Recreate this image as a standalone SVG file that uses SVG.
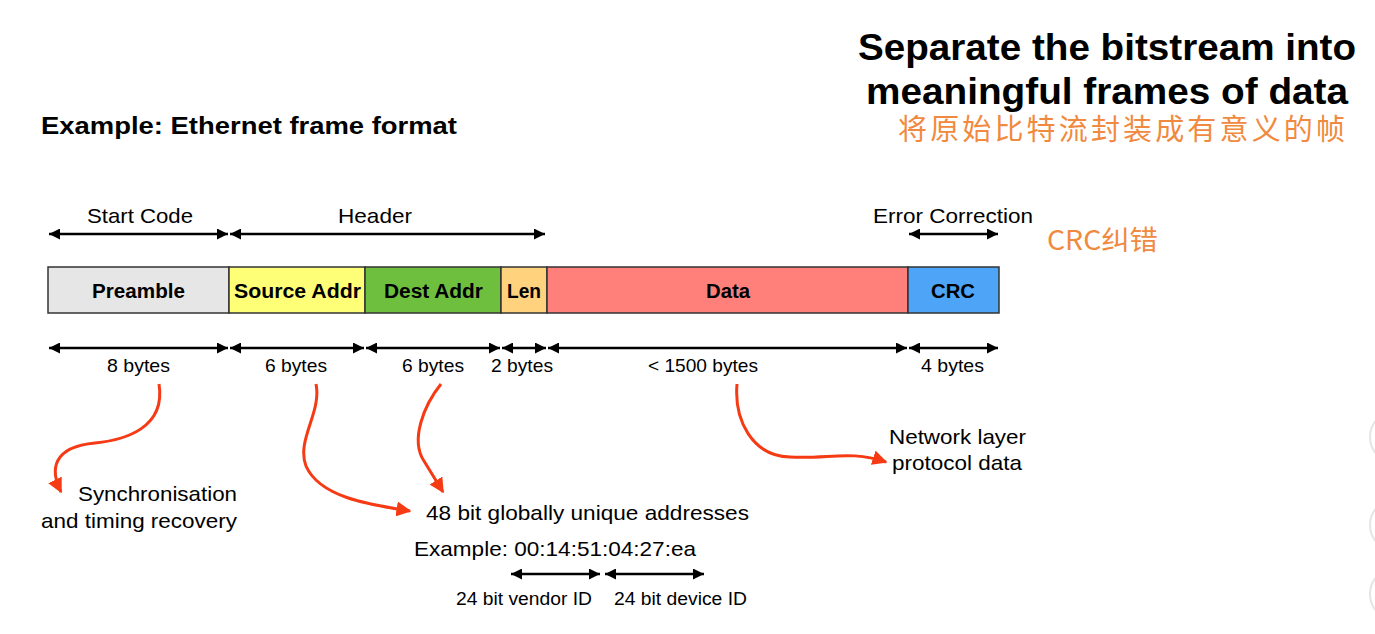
<svg xmlns="http://www.w3.org/2000/svg" width="1375" height="634" viewBox="0 0 1375 634">
<defs>
<marker id="ah" viewBox="0 0 10 10" refX="10" refY="5" markerWidth="4.4" markerHeight="4.4" orient="auto-start-reverse" markerUnits="strokeWidth">
<path d="M0,0 L10,5 L0,10 z" fill="#000"/>
</marker>
<marker id="rh" viewBox="0 0 10 10" refX="9" refY="5" markerWidth="5" markerHeight="5" orient="auto" markerUnits="strokeWidth">
<path d="M0,0 L10,5 L0,10 z" fill="#F53A14"/>
</marker>
<style>
.t{font-family:"Liberation Sans",Arial,sans-serif;fill:#000}
.lbl{font-size:21px}
.s{font-size:19px}
.bl{font-weight:bold;font-size:20px}
.b{font-weight:bold}
.box{stroke:#333;stroke-width:1.5}
.dim{stroke:#000;stroke-width:2.5;fill:none;marker-start:url(#ah);marker-end:url(#ah)}
.red{stroke:#F53A14;stroke-width:3;fill:none;marker-end:url(#rh)}
.cn{font-family:"Noto Sans CJK SC",sans-serif;fill:#F08A40}
</style>
</defs>
<rect width="1375" height="634" fill="#fff"/>

<g id="title">
<text class="t b" x="858" y="60" font-size="37" textLength="498" lengthAdjust="spacingAndGlyphs">Separate the bitstream into</text>
<text class="t b" x="866" y="104" font-size="37" textLength="482" lengthAdjust="spacingAndGlyphs">meaningful frames of data</text>
<text class="cn" x="898" y="140" font-size="29" textLength="447" lengthAdjust="spacing">将原始比特流封装成有意义的帧</text>
</g>
<g id="subtitle">
<text class="t b" x="41" y="134" font-size="24" textLength="416" lengthAdjust="spacingAndGlyphs">Example: Ethernet frame format</text>
</g>

<g id="preamble"><rect class="box" x="48" y="267" width="181" height="46" fill="#E6E6E6"/><text class="t bl" x="92" y="298" textLength="93" lengthAdjust="spacingAndGlyphs">Preamble</text></g>
<g id="source"><rect class="box" x="229" y="267" width="136" height="46" fill="#FFFF77"/><text class="t bl" x="234" y="298" textLength="127" lengthAdjust="spacingAndGlyphs">Source Addr</text></g>
<g id="dest"><rect class="box" x="365" y="267" width="136" height="46" fill="#6FBF3F"/><text class="t bl" x="384" y="298" textLength="99" lengthAdjust="spacingAndGlyphs">Dest Addr</text></g>
<g id="len"><rect class="box" x="501" y="267" width="46" height="46" fill="#FFD27D"/><text class="t bl" x="507" y="298" textLength="34" lengthAdjust="spacingAndGlyphs">Len</text></g>
<g id="data"><rect class="box" x="547" y="267" width="361" height="46" fill="#FF7F7A"/><text class="t bl" x="706" y="298" textLength="44" lengthAdjust="spacingAndGlyphs">Data</text></g>
<g id="crc"><rect class="box" x="908" y="267" width="91" height="46" fill="#4EA5F7"/><text class="t bl" x="931" y="298" textLength="44" lengthAdjust="spacingAndGlyphs">CRC</text></g>

<g id="top-labels">
<text class="t lbl" x="87" y="223" textLength="106" lengthAdjust="spacingAndGlyphs">Start Code</text>
<text class="t lbl" x="338" y="223" textLength="74" lengthAdjust="spacingAndGlyphs">Header</text>
<text class="t lbl" x="873" y="223" textLength="160" lengthAdjust="spacingAndGlyphs">Error Correction</text>
<text class="cn" x="1047" y="250" font-size="27" textLength="111" lengthAdjust="spacingAndGlyphs">CRC纠错</text>
</g>

<g id="size-labels">
<text class="t s" x="107" y="372" textLength="63" lengthAdjust="spacingAndGlyphs">8 bytes</text>
<text class="t s" x="265" y="372" textLength="62" lengthAdjust="spacingAndGlyphs">6 bytes</text>
<text class="t s" x="402" y="372" textLength="62" lengthAdjust="spacingAndGlyphs">6 bytes</text>
<text class="t s" x="491" y="372" textLength="62" lengthAdjust="spacingAndGlyphs">2 bytes</text>
<text class="t s" x="648" y="372" textLength="110" lengthAdjust="spacingAndGlyphs">&lt; 1500 bytes</text>
<text class="t s" x="921" y="372" textLength="63" lengthAdjust="spacingAndGlyphs">4 bytes</text>
</g>

<g id="notes">
<text class="t lbl" x="78" y="501" textLength="159" lengthAdjust="spacingAndGlyphs">Synchronisation</text>
<text class="t lbl" x="41" y="528" textLength="196" lengthAdjust="spacingAndGlyphs">and timing recovery</text>
<text class="t lbl" x="426" y="520" textLength="323" lengthAdjust="spacingAndGlyphs">48 bit globally unique addresses</text>
<text class="t lbl" x="414" y="556" textLength="282" lengthAdjust="spacingAndGlyphs">Example: 00:14:51:04:27:ea</text>
<text class="t" font-size="18" x="456" y="605" textLength="136" lengthAdjust="spacingAndGlyphs">24 bit vendor ID</text>
<text class="t" font-size="18" x="614" y="605" textLength="133" lengthAdjust="spacingAndGlyphs">24 bit device ID</text>
<text class="t lbl" x="889" y="444" textLength="137" lengthAdjust="spacingAndGlyphs">Network layer</text>
<text class="t lbl" x="892" y="470" textLength="130" lengthAdjust="spacingAndGlyphs">protocol data</text>
</g>

<g id="connectors">
<line class="dim" x1="49" y1="234" x2="228" y2="234"/>
<line class="dim" x1="230" y1="234" x2="545" y2="234"/>
<line class="dim" x1="909" y1="234" x2="998" y2="234"/>
<line class="dim" x1="49" y1="348" x2="228" y2="348"/>
<line class="dim" x1="230" y1="348" x2="364" y2="348"/>
<line class="dim" x1="366" y1="348" x2="500" y2="348"/>
<line class="dim" x1="502" y1="348" x2="546" y2="348"/>
<line class="dim" x1="548" y1="348" x2="907" y2="348"/>
<line class="dim" x1="909" y1="348" x2="998" y2="348"/>
<line class="dim" x1="511" y1="574" x2="600" y2="574"/>
<line class="dim" x1="605" y1="574" x2="704" y2="574"/>
<path class="red" d="M159,384 C166,428 125,440 95,443 C52,447 50,470 61,492"/>
<path class="red" d="M316,384 C322,412 296,440 306,466 C320,498 372,505 410,511"/>
<path class="red" d="M441,384 C424,405 410,440 424,461 L443,492"/>
<path class="red" d="M737,384 C734,420 752,456 790,457 C830,459 850,450 886,462"/>
</g>

<g id="edge-decor" fill="none" stroke="#E4E4E4" stroke-width="2">
<circle cx="1396" cy="437" r="26"/>
<circle cx="1396" cy="525" r="26"/>
<circle cx="1396" cy="594" r="26"/>
</g>
</svg>
